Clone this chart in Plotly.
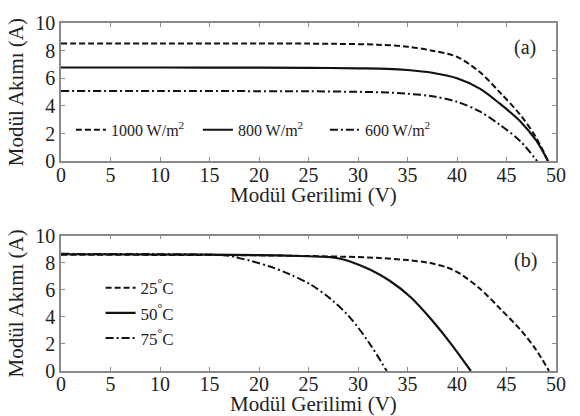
import plotly.graph_objects as go

# Panel (a): irradiance
V_1000 = [0, 10, 20, 25, 28, 32, 35, 37.5, 40, 42.3, 44.3, 46.4, 48.0, 49.2]
I_1000 = [8.52, 8.52, 8.52, 8.51, 8.49, 8.43, 8.28, 8.0, 7.55, 6.45, 5.0, 3.35, 1.7, 0]
V_800 = [0, 10, 20, 25, 30, 33, 35, 37.5, 40, 42.3, 44.3, 46.4, 48.0, 49.2]
I_800 = [6.78, 6.78, 6.77, 6.76, 6.72, 6.68, 6.6, 6.4, 6.0, 5.25, 4.18, 2.88, 1.5, 0]
V_600 = [0, 10, 20, 25, 30, 33, 35, 37.5, 40, 42.3, 44.3, 46.4, 48.1]
I_600 = [5.08, 5.08, 5.07, 5.06, 5.02, 4.97, 4.88, 4.7, 4.3, 3.6, 2.65, 1.45, 0]

# Panel (b): temperature
V_25 = [0, 20, 25, 30, 32.2, 35, 37.3, 39.0, 40.3, 42.3, 44.3, 46.4, 48.0, 49.3]
I_25 = [8.6, 8.55, 8.5, 8.42, 8.35, 8.2, 7.98, 7.65, 7.2, 6.1, 4.65, 3.05, 1.55, 0]
V_50 = [0, 15, 20, 24, 27.2, 28.2, 29.2, 31.2, 33.2, 35.3, 37.3, 39.3, 41.4]
I_50 = [8.63, 8.6, 8.57, 8.5, 8.42, 8.3, 8.1, 7.5, 6.67, 5.47, 3.9, 2.1, 0]
V_75 = [0, 10, 15, 17, 17.7, 19.1, 21.1, 23.1, 25.2, 27.2, 29.2, 31.2, 32.9]
I_75 = [8.66, 8.64, 8.6, 8.52, 8.4, 8.15, 7.72, 7.15, 6.4, 5.35, 3.95, 2.0, 0]

x_ticks = [0, 5, 10, 15, 20, 25, 30, 35, 40, 45, 50]
y_ticks = [0, 2, 4, 6, 8, 10]

FONT = "Liberation Serif"
TXT = "#222222"
AX = "#8a8a8a"

fig = go.Figure()

def add(x, y, name, dash, width, xa, ya, legend):
    fig.add_trace(go.Scatter(x=x, y=y, mode="lines", name=name,
                             line=dict(color="#111111", dash=dash, width=width,
                                       shape="spline", smoothing=0.9),
                             xaxis=xa, yaxis=ya, legend=legend))

add(V_1000, I_1000, "1000 W/m<sup>2</sup>", "6px,3px", 2, "x", "y", "legend")
add(V_800, I_800, "800 W/m<sup>2</sup>", "solid", 2.2, "x", "y", "legend")
add(V_600, I_600, "600 W/m<sup>2</sup>", "8px,3px,2px,3px", 2, "x", "y", "legend")
add(V_25, I_25, "25<sup>°</sup>C", "6px,3px", 2, "x2", "y2", "legend2")
add(V_50, I_50, "50<sup>°</sup>C", "solid", 2.2, "x2", "y2", "legend2")
add(V_75, I_75, "75<sup>°</sup>C", "8px,3px,2px,3px", 2, "x2", "y2", "legend2")

axis_common = dict(
    range=[0, 50], tickvals=x_ticks, ticks="inside", ticklen=4, tickcolor=AX,
    showline=True, linecolor=AX, linewidth=1.5, mirror="allticks",
    showgrid=False, zeroline=False,
    tickfont=dict(family=FONT, size=20, color=TXT),
)
yaxis_common = dict(
    range=[0, 10], tickvals=y_ticks, ticks="inside", ticklen=4, tickcolor=AX,
    showline=True, linecolor=AX, linewidth=1.5, mirror="allticks",
    showgrid=False, zeroline=False,
    tickfont=dict(family=FONT, size=20, color=TXT),
)

title_font = dict(family=FONT, size=21, color=TXT)

fig.update_layout(
    width=580, height=416,
    margin=dict(l=61, r=24, t=16, b=45),
    paper_bgcolor="white", plot_bgcolor="white",
    font=dict(family=FONT, color=TXT),
    xaxis=dict(**axis_common, domain=[0, 1], anchor="y", ticklabelstandoff=-5),
    yaxis=dict(**yaxis_common, domain=[0.6028, 1], anchor="x",
               title=dict(text="Modül Akımı (A)", font=title_font, standoff=6)),
    xaxis2=dict(**axis_common, domain=[0, 1], anchor="y2", ticklabelstandoff=-6),
    yaxis2=dict(**yaxis_common, domain=[0, 0.3887], anchor="x2",
                title=dict(text="Modül Akımı (A)", font=title_font, standoff=6)),
    legend=dict(orientation="h", x=0.02, xanchor="left", y=0.693, yanchor="middle",
                yref="paper", bgcolor="rgba(0,0,0,0)", itemwidth=30,
                entrywidth=82, entrywidthmode="pixels",
                font=dict(family=FONT, size=16, color=TXT)),
    legend2=dict(orientation="v", x=0.08, xanchor="left", y=0.166, yanchor="middle",
                 bgcolor="rgba(0,0,0,0)", itemwidth=30,
                 font=dict(family=FONT, size=17, color=TXT)),
    annotations=[
        dict(text="Modül Gerilimi (V)", x=0.511, y=0.505, xref="paper", yref="paper",
             xanchor="center", yanchor="middle", showarrow=False, font=title_font),
        dict(text="Modül Gerilimi (V)", x=0.511, y=-0.095, xref="paper", yref="paper",
             xanchor="center", yanchor="middle", showarrow=False, font=title_font),
        dict(text="(a)", x=46.9, y=8.25, xref="x", yref="y", showarrow=False,
             font=dict(family=FONT, size=20, color=TXT)),
        dict(text="(b)", x=46.9, y=8.15, xref="x2", yref="y2", showarrow=False,
             font=dict(family=FONT, size=20, color=TXT)),
    ],
)

fig.write_html("out.html")
